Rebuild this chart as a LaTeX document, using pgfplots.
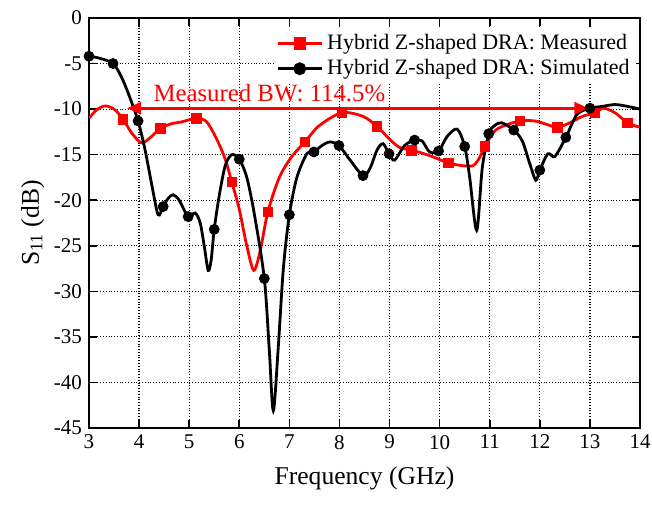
\documentclass[border=0pt]{standalone}
\usepackage{fontspec}
\setmainfont{Liberation Serif}
\usepackage{pgfplots}
\pgfplotsset{compat=1.18}
\usetikzlibrary{arrows.meta}

% measured S11 (red)
\pgfplotstableread{
x y
3.00 -11.0
3.15 -10.1
3.32 -9.65
3.50 -10.0
3.68 -11.1
3.85 -12.6
4.05 -13.7
4.25 -13.0
4.42 -12.1
4.65 -11.6
4.85 -11.4
5.15 -11.0
5.35 -11.4
5.55 -13.3
5.72 -15.5
5.85 -18.0
6.00 -21.0
6.15 -25.0
6.29 -27.7
6.42 -25.5
6.57 -21.3
6.80 -17.5
7.05 -15.2
7.31 -13.6
7.60 -11.8
8.05 -10.4
8.47 -10.8
8.75 -11.9
9.00 -13.3
9.20 -14.2
9.44 -14.5
9.80 -15.1
10.17 -15.9
10.45 -16.2
10.67 -16.2
10.80 -15.3
10.90 -14.1
11.10 -12.4
11.30 -11.8
11.60 -11.3
11.90 -11.3
12.15 -11.7
12.35 -12.0
12.60 -11.5
12.85 -10.8
13.10 -10.4
13.27 -9.9
13.50 -10.4
13.75 -11.5
14.00 -12.0
}\meas

\pgfplotstableread{
x y
3.68 -11.1
4.42 -12.1
5.15 -11.0
5.85 -18.0
6.57 -21.3
7.31 -13.6
8.05 -10.4
8.75 -11.9
9.44 -14.5
10.17 -15.9
10.90 -14.1
11.60 -11.3
12.35 -12.0
13.10 -10.4
13.75 -11.5
}\measmk

% simulated S11 (black)
\pgfplotstableread{
x y
3.00 -4.2
3.20 -4.4
3.48 -5.0
3.65 -6.5
3.80 -8.5
3.98 -11.3
4.12 -14.5
4.26 -18.5
4.38 -21.6
4.48 -20.7
4.58 -19.8
4.68 -19.4
4.80 -20.0
4.98 -21.8
5.12 -21.4
5.22 -22.5
5.30 -25.0
5.38 -27.7
5.44 -26.5
5.50 -23.2
5.60 -19.5
5.72 -16.2
5.85 -15.0
6.00 -15.5
6.15 -17.5
6.30 -21.5
6.50 -28.6
6.60 -36.5
6.68 -43.1
6.78 -36.0
6.88 -27.5
7.00 -21.6
7.15 -17.5
7.35 -14.9
7.49 -14.7
7.65 -14.0
7.81 -13.6
7.99 -14.0
8.20 -15.5
8.47 -17.3
8.61 -16.5
8.75 -14.5
8.87 -13.8
8.99 -14.9
9.10 -15.6
9.30 -14.0
9.50 -13.4
9.65 -13.5
9.80 -14.7
9.98 -14.6
10.15 -13.0
10.35 -12.2
10.50 -14.1
10.60 -17.5
10.74 -23.3
10.85 -16.5
10.98 -12.7
11.10 -11.8
11.24 -11.5
11.48 -12.3
11.65 -13.5
11.80 -16.0
11.92 -17.8
12.00 -16.7
12.16 -14.9
12.30 -15.2
12.52 -13.1
12.74 -10.6
13.00 -9.9
13.25 -9.7
13.50 -9.5
13.75 -9.7
14.00 -10.0
}\sim

\pgfplotstableread{
x y
3.00 -4.2
3.48 -5.0
3.98 -11.3
4.48 -20.7
4.98 -21.8
5.50 -23.2
6.00 -15.5
6.50 -28.6
7.00 -21.6
7.49 -14.7
7.99 -14.0
8.47 -17.3
8.99 -14.9
9.50 -13.4
9.98 -14.6
10.50 -14.1
10.98 -12.7
11.48 -12.3
12.00 -16.7
12.52 -13.1
13.00 -9.9
}\simmk

\begin{document}
\begin{tikzpicture}
\begin{axis}[
    scale only axis,
    width=275.5bp,
    height=205bp,
    xmin=3, xmax=14,
    ymin=-45, ymax=0,
    xtick={3,4,...,14},
    ytick={-45,-40,...,0},
    xticklabel={\pgfmathprintnumber[assume math mode=true]{\tick}},
    yticklabel={\pgfmathprintnumber[assume math mode=true]{\tick}},
    grid=major,
    major grid style={black, densely dotted, line width=0.6bp},
    axis line style={line width=1bp},
    tick align=inside,
    major tick length=4bp,
    tick style={black, line width=0.8bp},
    tick label style={font=\fontsize{10.5bp}{12bp}\selectfont},
    xlabel={Frequency (GHz)},
    ylabel={S\textsubscript{11} (dB)},
    label style={font=\fontsize{12.8bp}{14bp}\selectfont},
    xlabel style={yshift=-2bp},
    ylabel style={yshift=-2bp},
    legend style={at={(1,1)}, anchor=north east, xshift=-2bp, yshift=-5bp,
        draw=none, fill=white, font=\fontsize{11bp}{12.5bp}\selectfont,
        row sep=-0.5bp, inner sep=1bp},
    legend cell align=left,
    legend image code/.code={
        \draw[#1] (0bp,0bp) -- (22bp,0bp);
        \draw[#1, mark repeat=1] plot coordinates {(11bp,0bp)};
    },
]
\addplot[red, line width=1.4bp, smooth, tension=0.5, forget plot] table {\meas};
\addplot[black, line width=1.4bp, smooth, tension=0.5, forget plot] table {\sim};
\addplot[only marks, red, mark=square*, mark size=2.4bp, forget plot] table {\measmk};
\addplot[only marks, black, mark=*, mark size=2.5bp, forget plot] table {\simmk};

\addlegendimage{red, line width=1.4bp, mark=square*, mark size=2.4bp}
\addlegendentry{Hybrid Z-shaped DRA: Measured}
\addlegendimage{black, line width=1.4bp, mark=*, mark size=2.5bp}
\addlegendentry{Hybrid Z-shaped DRA: Simulated}

\draw[red, line width=1.4bp, {Triangle[length=7bp,width=6bp]}-{Triangle[length=7bp,width=6bp]}]
    (axis cs:3.76,-9.9) -- (axis cs:12.97,-9.9);
\node[red, font=\fontsize{12.4bp}{14bp}\selectfont, inner sep=0pt] at (axis cs:6.6,-8.2) {Measured BW: 114.5\%};
\end{axis}
\pgfresetboundingbox
\path[use as bounding box] ([shift={(-44.5bp,-38.5bp)}]current axis.south west) rectangle ([shift={(6bp,9bp)}]current axis.north east);
\end{tikzpicture}
\end{document}
